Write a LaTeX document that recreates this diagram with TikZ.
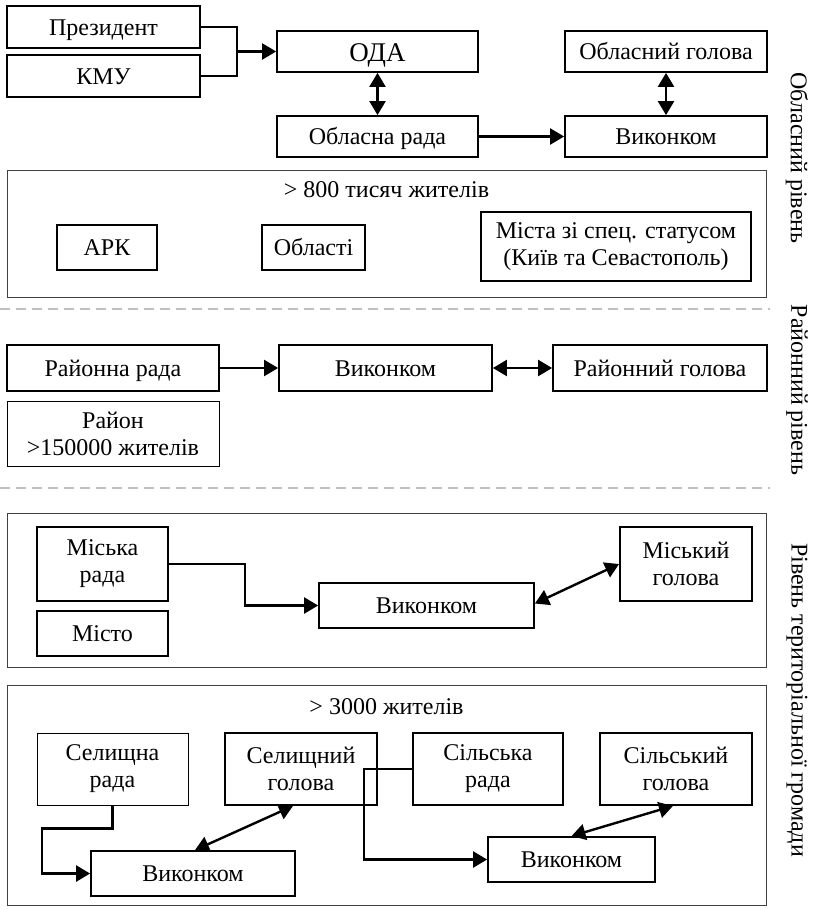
\documentclass[tikz,border=0pt]{standalone}
\usepackage{fontspec}
\setmainfont{Liberation Serif}
\usepackage{tikz}
\usetikzlibrary{arrows.meta}

\begin{document}
\begin{tikzpicture}[x=1pt, y=-1pt,
        font=\fontsize{24}{27}\selectfont,
        box/.style={draw, line width=1.8pt, inner sep=0pt, text height=18pt, text depth=2pt},
        tbox/.style={draw, line width=1.8pt, inner sep=0pt, align=center},
        thin/.style={line width=1pt},
        frame/.style={draw=black!75, line width=1pt, inner sep=0pt},
        level/.style={rotate=-90, anchor=center},
        sep/.style={draw=black!25, line width=1.6pt, dash pattern=on 10pt off 6pt},
        link/.style={line width=2.4pt},
        >={Triangle[length=14pt, width=16pt]}]

    \useasboundingbox (0,0) rectangle (822,910);

    % oblast level
    \node[box, minimum width=193, minimum height=42] (pres) at (103.5,27) {Президент};
    \node[box, minimum width=193, minimum height=42] (kmu) at (103.5,76) {КМУ};
    \node[box, minimum width=201, minimum height=41, font=\fontsize{27}{30}\selectfont,
        text height=21pt] (oda) at (377.5,51.5) {ОДА};
    \node[box, minimum width=201, minimum height=41] (orada) at (377.5,136.5) {Обласна рада};
    \node[box, minimum width=202, minimum height=41] (ohead) at (666,51.5) {Обласний голова};
    \node[box, minimum width=202, minimum height=41] (ovyk) at (666,136.5) {Виконком};
    \coordinate (join) at ([xshift=-39pt]oda.west);

    \draw[link] (pres.east) -| (join) |- (kmu.east);
    \draw[link, ->] (join) -- (oda.west);
    \draw[link, <->] (oda) -- (orada);
    \draw[link, ->] (orada) -- (ovyk);
    \draw[link, <->] (ohead) -- (ovyk);

    \node[frame, minimum width=759, minimum height=127] (obox) at (386.5,233.5) {};
    \node (opop) at (386.5,190) {> 800 тисяч жителів};
    \node[box, line width=1.3pt, minimum width=100, minimum height=45] (ark) at (107,247.5) {АРК};
    \node[box, line width=1.3pt, minimum width=103, minimum height=45] (obl) at (313.5,247.5) {Області};
    \node[tbox, line width=1.3pt, minimum width=270, minimum height=69] (spec) at (616,246.5)
        {Міста зі спец. статусом\\(Київ та Севастополь)};

    \node[level] (lobl) at (797,158) {Обласний рівень};
    \draw[sep] (0,309) -- (770,309);

    % raion level
    \node[box, minimum width=212, minimum height=46] (rrada) at (113,368) {Районна рада};
    \node[box, minimum width=213, minimum height=46] (rvyk) at (385.5,368) {Виконком};
    \node[box, minimum width=214, minimum height=46] (rhead) at (660,368) {Районний голова};
    \node[tbox, thin, minimum width=212, minimum height=65] (rayon) at (113,433.5) {Район\\>150000 жителів};

    \draw[link, ->] (rrada) -- (rvyk);
    \draw[link, <->] (rvyk) -- (rhead);

    \node[level] (lray) at (797,390) {Районний рівень};
    \draw[sep] (0,488) -- (770,488);

    % city
    \node[frame, minimum width=759, minimum height=154] (cbox) at (386.5,590) {};
    \node[tbox, minimum width=131, minimum height=74] (mrada) at (102.5,564) {Міська\\рада};
    \node[box, minimum width=131, minimum height=45] (misto) at (102.5,633.5) {Місто};
    \node[box, minimum width=215, minimum height=45] (mvyk) at (426.5,605.5) {Виконком};
    \node[tbox, minimum width=132, minimum height=74] (mhead) at (686,564) {Міський\\голова};

    \draw[link, ->] (mrada.east) -- ++(76,0) |- (mvyk.west);
    \draw[link, <->] ([yshift=2pt]mvyk.east) -- (mhead.west);

    % settlements and villages
    \node[frame, minimum width=759, minimum height=220] (vbox) at (386.5,795) {};
    \node (vpop) at (386.5,707) {> 3000 жителів};
    \node[tbox, thin, minimum width=151, minimum height=72] (srada) at (112.5,769) {Селищна\\рада};
    \node[tbox, minimum width=152, minimum height=72] (shead) at (301,769) {Селищний\\голова};
    \node[tbox, minimum width=150, minimum height=72] (silrada) at (488,769) {Сільська\\рада};
    \node[tbox, minimum width=152, minimum height=72] (silhead) at (676,769) {Сільський\\голова};
    \node[box, minimum width=204, minimum height=45] (svyk) at (193,873.5) {Виконком};
    \node[box, minimum width=167, minimum height=45] (silvyk) at (571.5,859.5) {Виконком};

    \draw[link, ->] (srada.south) -- ++(0,23) -| ([xshift=-48pt]svyk.west) -- (svyk.west);
    \draw[link, <->] ([xshift=2pt]svyk.north) -- ([xshift=-8pt]shead.south);
    \draw[link, ->] (silrada.west) -- ++(-48,0) |- (silvyk.west);
    \draw[link, <->] (silvyk.north) -- ([xshift=-3pt]silhead.south);

    \node[level] (lgrom) at (797,700) {Рівень територіальної громади};
\end{tikzpicture}
\end{document}
